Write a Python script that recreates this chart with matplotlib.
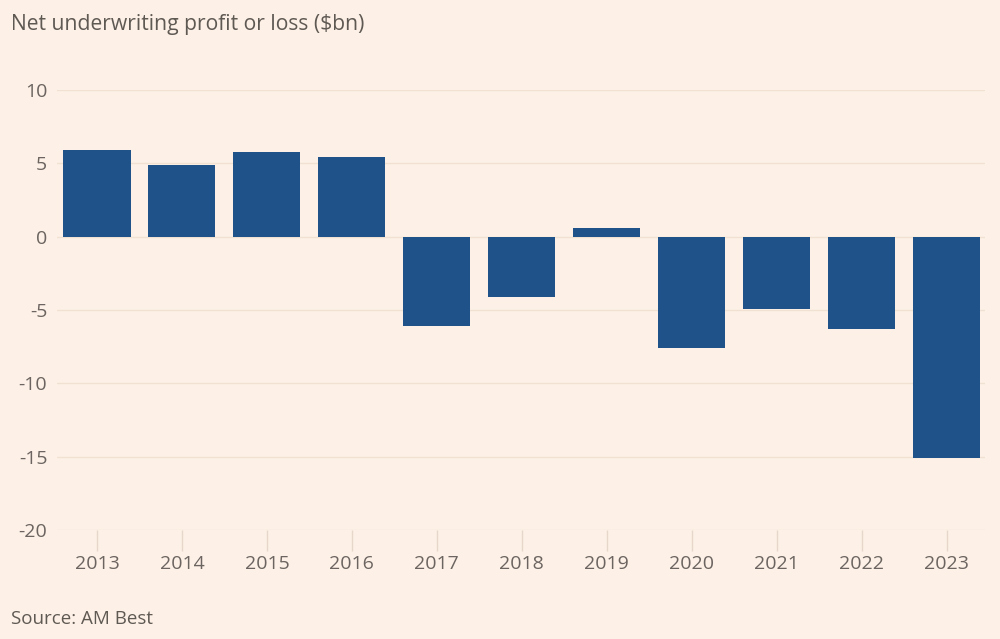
import matplotlib
matplotlib.use("Agg")
import matplotlib.pyplot as plt

years = ["2013", "2014", "2015", "2016", "2017", "2018", "2019", "2020", "2021", "2022", "2023"]
values = [5.9, 4.9, 5.8, 5.4, -6.1, -4.1, 0.6, -7.6, -4.9, -6.3, -15.1]
yticks = [10, 5, 0, -5, -10, -15, -20]
title = "Net underwriting profit or loss ($bn)"
source = "Source: AM Best"

bg = "#fdf0e6"
bar_color = "#1f5289"
grid_color = "#f1e1d3"
text_color = "#6b6460"

plt.rcParams['font.family'] = ['Open Sans', 'DejaVu Sans']

fig = plt.figure(figsize=(10, 6.39), dpi=100, facecolor=bg)
ax = fig.add_axes([0.057, 0.1706, 0.928, 0.6886], facecolor=bg)

x = list(range(len(years)))
ax.bar(x, values, width=0.79, color=bar_color, zorder=3)

ax.set_xlim(-0.47, len(years) - 1 + 0.45)
ax.set_ylim(-20, 10)
ax.set_yticks(yticks)
ax.set_yticklabels([str(v) for v in yticks])
ax.set_xticks(x)
ax.set_xticklabels(years)

ax.grid(axis='y', color=grid_color, linewidth=1, zorder=0)
for s in ax.spines.values():
    s.set_visible(False)
ax.tick_params(axis='y', length=0, pad=7, labelsize=14, labelcolor=text_color)
ax.tick_params(axis='x', length=15, width=1, color="#e6d7ca", pad=3,
               labelsize=14, labelcolor=text_color)
for lab in ax.get_yticklabels():
    lab.set_horizontalalignment('right')

fig.text(0.011, 0.962, title, fontsize=15.2, color="#5f5954", va='center', ha='left')
fig.text(0.011, 0.032, source, fontsize=13.5, color="#5f5954", va='center', ha='left')

fig.savefig("out.png", dpi=100, facecolor=bg)
